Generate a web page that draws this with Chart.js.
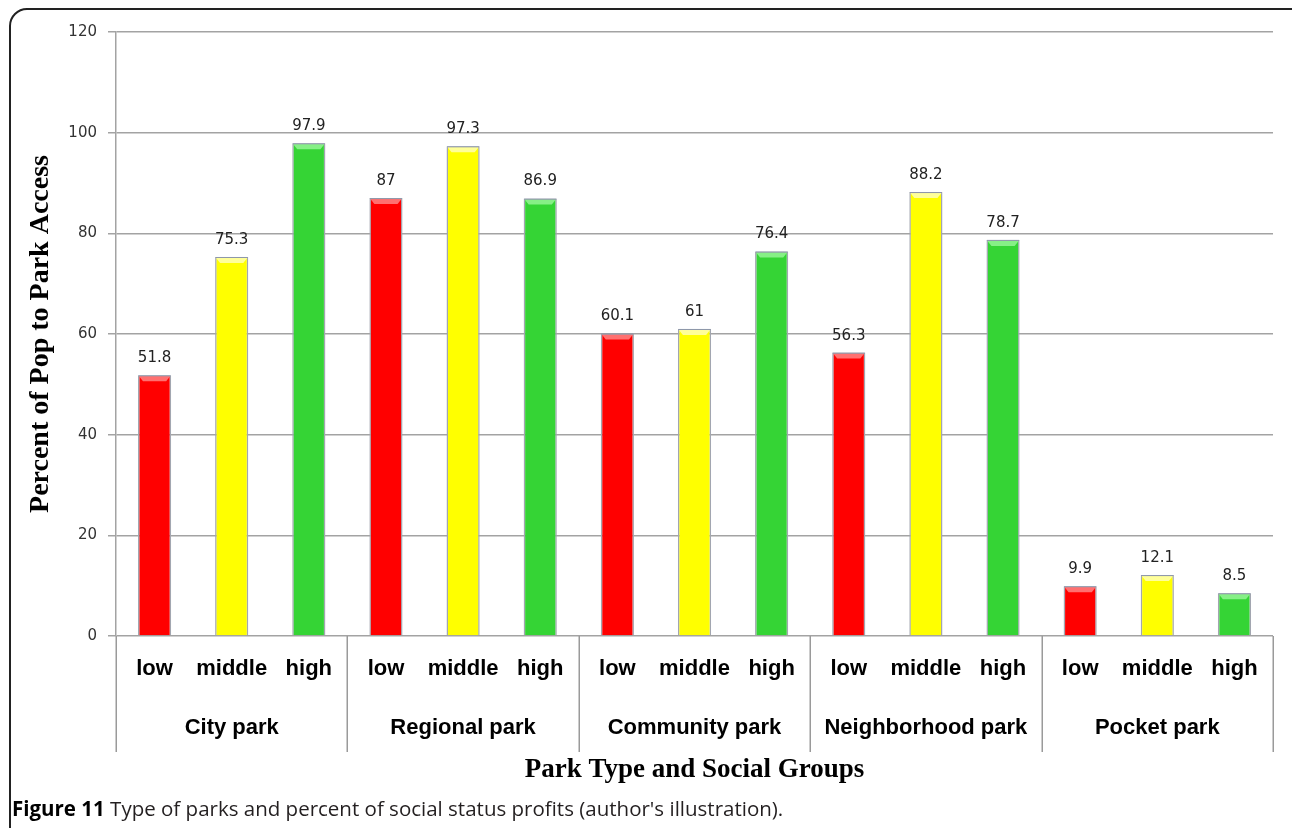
<!DOCTYPE html>
<html>
<head>
<meta charset="utf-8">
<title>Park access by social group</title>
<script src="https://cdn.jsdelivr.net/npm/chart.js@4/dist/chart.umd.min.js"></script>
<style>
  html, body { margin: 0; padding: 0; background: #fff; overflow: hidden; }
  #wrap { position: relative; width: 1292px; height: 828px; overflow: hidden; background: #fff; }
  #frame { position: absolute; left: 9px; top: 8px; width: 1300px; height: 900px;
           border: 2px solid #222; border-radius: 18px; box-sizing: border-box; }
  #c { position: absolute; left: 0; top: 0; }
  #caption { position: absolute; left: 12px; top: 795px; font-family: "Open Sans", sans-serif;
             font-size: 20.5px; color: #231f20; white-space: nowrap; line-height: 26px; }
  #caption b { color: #000; font-weight: 700; }
</style>
</head>
<body>
<div id="wrap">
  <div id="frame"></div>
  <canvas id="c" width="1292" height="828"></canvas>
  <div id="caption"><b>Figure 11</b> Type of parks and percent of social status profits (author's illustration).</div>
</div>
<script>
// Park categories and the three social groups shown under each one
const parkTypes = ['City park', 'Regional park', 'Community park', 'Neighborhood park', 'Pocket park'];
const socialGroups = ['low', 'middle', 'high'];

// Percent of population with park access, per park type
const lowValues    = [51.8, 87, 60.1, 56.3, 9.9];
const middleValues = [75.3, 97.3, 61, 88.2, 12.1];
const highValues   = [97.9, 86.9, 76.4, 78.7, 8.5];

// Value axis ticks
const yTicks = [0, 20, 40, 60, 80, 100, 120];

// Bar fill and lighter top-cap colours for low / middle / high
const groupColors = ['#ff0000', '#ffff00', '#35d435'];
const capColors   = ['#ff7070', '#ffff9a', '#86f086'];

// Flatten into one row of bars: low, middle, high for each park type
const seriesByGroup = [lowValues, middleValues, highValues];
const labels = [], values = [], fills = [], caps = [];
parkTypes.forEach((park, i) => {
  seriesByGroup.forEach((series, j) => {
    labels.push(socialGroups[j]);
    values.push(series[i]);
    fills.push(groupColors[j]);
    caps.push(capColors[j]);
  });
});

// Bevelled top cap and value label above every bar
const barDecor = {
  id: 'barDecor',
  afterDatasetsDraw(chart) {
    const ctx = chart.ctx;
    const meta = chart.getDatasetMeta(0);
    meta.data.forEach((bar, i) => {
      const { x, y, width } = bar.getProps(['x', 'y', 'width'], true);
      const l = x - width / 2, r = x + width / 2;
      const h = 6;
      ctx.save();
      ctx.beginPath();
      ctx.moveTo(l + 1, y + 1);
      ctx.lineTo(r - 1, y + 1);
      ctx.lineTo(r - 5, y + h);
      ctx.lineTo(l + 5, y + h);
      ctx.closePath();
      ctx.fillStyle = caps[i];
      ctx.fill();
      ctx.strokeStyle = 'rgba(140,150,170,0.9)';
      ctx.lineWidth = 1;
      ctx.beginPath();
      ctx.moveTo(l + 0.5, y + 0.5);
      ctx.lineTo(r - 0.5, y + 0.5);
      ctx.stroke();

      ctx.fillStyle = '#222';
      ctx.font = '15px "DejaVu Sans", sans-serif';
      ctx.textAlign = 'center';
      ctx.textBaseline = 'middle';
      ctx.fillText(String(values[i]), x, y - 17);
      ctx.restore();
    });
  }
};

// Park-type row beneath the social-group labels, with separators
const groupAxis = {
  id: 'groupAxis',
  afterDraw(chart) {
    const ctx = chart.ctx;
    const xs = chart.scales.x;
    const area = chart.chartArea;
    const n = socialGroups.length;
    const bounds = [area.left];
    for (let g = 1; g < parkTypes.length; g++) {
      bounds.push((xs.getPixelForValue(g * n - 1) + xs.getPixelForValue(g * n)) / 2);
    }
    bounds.push(area.right);
    ctx.save();
    ctx.strokeStyle = '#9a9a9a';
    ctx.lineWidth = 1.5;
    bounds.forEach(bx => {
      ctx.beginPath();
      ctx.moveTo(Math.round(bx) + 0.25, area.bottom);
      ctx.lineTo(Math.round(bx) + 0.25, 752);
      ctx.stroke();
    });
    ctx.fillStyle = '#000';
    ctx.font = 'bold 22px "Liberation Sans", Arial, sans-serif';
    ctx.textAlign = 'center';
    ctx.textBaseline = 'middle';
    parkTypes.forEach((p, g) => {
      ctx.fillText(p, xs.getPixelForValue(g * n + 1), 728);
    });
    ctx.restore();
  }
};

new Chart(document.getElementById('c'), {
  type: 'bar',
  data: {
    labels: labels,
    datasets: [{
      data: values,
      backgroundColor: fills,
      borderColor: '#a2a6b0',
      borderWidth: 1.5,
      barPercentage: 0.43,
      categoryPercentage: 1.0
    }]
  },
  options: {
    responsive: false,
    devicePixelRatio: 1,
    animation: false,
    events: [],
    layout: { padding: { left: 0, right: 19, top: 32, bottom: 0 } },
    plugins: {
      legend: { display: false },
      tooltip: { enabled: false },
      title: { display: false }
    },
    scales: {
      x: {
        type: 'category',
        offset: true,
        grid: { display: false, drawTicks: false },
        border: { display: false },
        ticks: {
          color: '#000',
          font: { family: '"Liberation Sans", Arial, sans-serif', size: 22, weight: 'bold' },
          padding: 20,
          maxRotation: 0,
          autoSkip: false
        },
        title: {
          display: true,
          text: 'Park Type and Social Groups',
          color: '#000',
          font: { family: '"Liberation Serif", "Times New Roman", serif', size: 27, weight: 'bold' },
          padding: { top: 0, bottom: 42 }
        },
        afterFit(scale) { scale.height = 192; }
      },
      y: {
        min: yTicks[0],
        max: yTicks[yTicks.length - 1],
        afterBuildTicks(scale) { scale.ticks = yTicks.map(v => ({ value: v })); },
        grid: { color: '#a3a3a3', lineWidth: 1.5, tickLength: 8, drawTicks: true },
        border: { display: true, color: '#a3a3a3', width: 1.5 },
        ticks: {
          color: '#333',
          font: { family: '"DejaVu Sans", sans-serif', size: 15 },
          padding: 11
        },
        title: {
          display: true,
          text: 'Percent of Pop to Park Access',
          color: '#000',
          font: { family: '"Liberation Serif", "Times New Roman", serif', size: 28, weight: 'bold' },
          padding: { top: 24, bottom: 0 }
        },
        afterFit(scale) { scale.width = 116; }
      }
    }
  },
  plugins: [barDecor, groupAxis]
});
</script>
</body>
</html>
